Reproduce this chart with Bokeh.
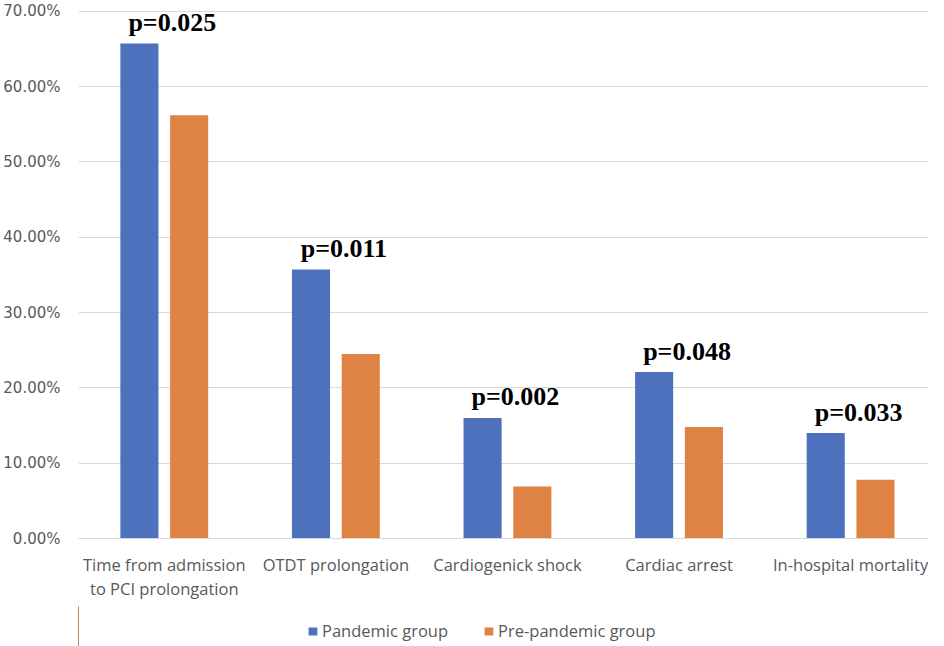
from bokeh.plotting import figure
from bokeh.layouts import column
from bokeh.models import (ColumnDataSource, Range1d, FixedTicker, PrintfTickFormatter,
                          Legend, LegendItem)
from bokeh.core.properties import value
from bokeh.embed import file_html
from bokeh.resources import INLINE

categories = ["Time from admission\nto PCI prolongation", "OTDT prolongation",
              "Cardiogenick shock", "Cardiac arrest", "In-hospital mortality"]
pandemic = [65.7, 35.7, 16.0, 22.1, 14.0]
pre_pandemic = [56.2, 24.5, 6.9, 14.8, 7.8]
p_labels = ["p=0.025", "p=0.011", "p=0.002", "p=0.048", "p=0.033"]
y_ticks = [0, 10, 20, 30, 40, 50, 60, 70]
series_names = ["Pandemic group", "Pre-pandemic group"]

BLUE = "#4E71BE"
ORANGE = "#DE8344"
GRAY = "#595959"
SANS = "Open Sans"

xc = [i + 0.5 for i in range(len(categories))]
src = ColumnDataSource(dict(
    x=xc,
    xb=[x - 0.145 for x in xc],
    xo=[x + 0.145 for x in xc],
    pandemic=pandemic,
    pre=pre_pandemic,
    plab=p_labels,
))

p = figure(width=928, height=606, output_backend="svg", toolbar_location=None,
           x_range=Range1d(0, 4.954), y_range=Range1d(0, 70.36),
           min_border_left=70, min_border_right=0, min_border_top=8,
           min_border_bottom=68)
p.outline_line_color = None

rb = p.vbar(x="xb", top="pandemic", width=0.222, source=src, color=BLUE, line_color=None)
ro = p.vbar(x="xo", top="pre", width=0.222, source=src, color=ORANGE, line_color=None)

p.text(x="x", y="pandemic", text="plab", source=src, x_offset=8, y_offset=-21,
       text_align="center", text_baseline="alphabetic",
       text_font=value("Liberation Serif"), text_font_style="bold",
       text_font_size="26px", text_color="black")

# y axis
p.yaxis.ticker = FixedTicker(ticks=y_ticks)
p.yaxis.formatter = PrintfTickFormatter(format="%.2f%%")
p.yaxis.axis_line_color = None
p.yaxis.major_tick_line_color = None
p.yaxis.minor_tick_line_color = None
p.yaxis.major_label_text_font = "DejaVu Sans"
p.yaxis.major_label_text_font_size = "15px"
p.yaxis.major_label_text_color = GRAY
p.yaxis.major_label_standoff = 12

# x axis
p.xaxis.ticker = FixedTicker(ticks=xc)
p.xaxis.major_label_overrides = {x: c for x, c in zip(xc, categories)}
p.xaxis.axis_line_color = "#D9D9D9"
p.xaxis.axis_line_width = 1
p.xaxis.major_tick_line_color = None
p.xaxis.minor_tick_line_color = None
p.xaxis.major_label_text_font = SANS
p.xaxis.major_label_text_font_size = "16.5px"
p.xaxis.major_label_text_color = GRAY
p.xaxis.major_label_text_line_height = 1.05
p.xaxis.major_label_standoff = 8

p.xgrid.grid_line_color = None
p.ygrid.grid_line_color = "#D9D9D9"
p.ygrid.grid_line_width = 1

# legend strip below the chart (its bars lie outside its visible range)
p2 = figure(width=928, height=40, output_backend="svg", toolbar_location=None,
            x_range=Range1d(10, 11), y_range=Range1d(0, 1),
            x_axis_type=None, y_axis_type=None,
            min_border_left=0, min_border_right=0, min_border_top=0, min_border_bottom=0)
p2.outline_line_color = None
lb = p2.vbar(x="xb", top="pandemic", width=0.222, source=src, color=BLUE, line_color=None)
lo = p2.vbar(x="xo", top="pre", width=0.222, source=src, color=ORANGE, line_color=None)

legend = Legend(items=[LegendItem(label=series_names[0], renderers=[lb]),
                       LegendItem(label=series_names[1], renderers=[lo])],
                orientation="horizontal", location=(229, 4),
                glyph_width=11, glyph_height=10, label_standoff=4, spacing=35,
                label_height=10,
                padding=0, margin=0, border_line_color=None,
                background_fill_alpha=0,
                label_text_font=SANS, label_text_font_size="16.5px",
                label_text_color=GRAY)
p2.add_layout(legend, "center")

layout = column(p, p2, spacing=0)
open("out.html", "w").write(file_html(layout, INLINE))
